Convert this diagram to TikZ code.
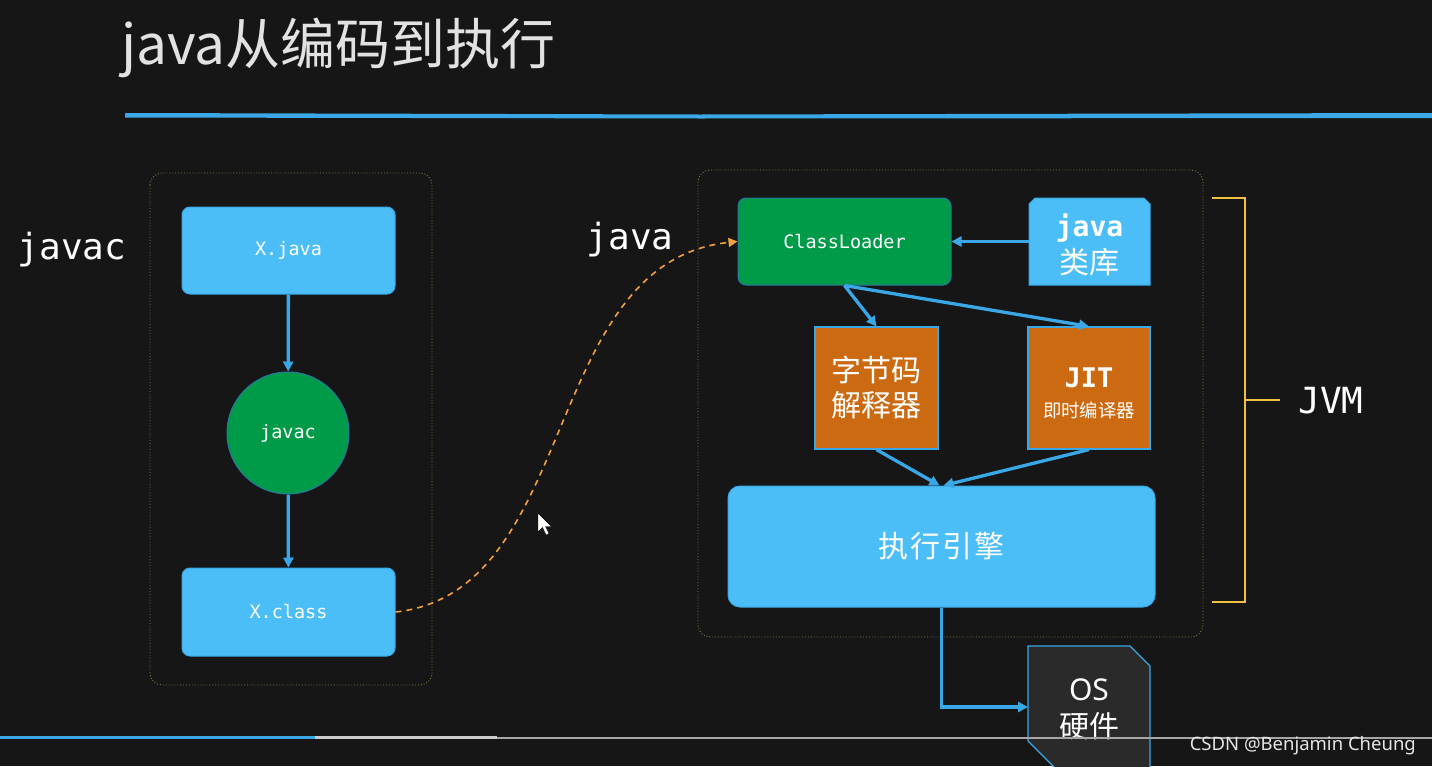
\documentclass[tikz,border=0pt]{standalone}
\usepackage{fontspec}
\usetikzlibrary{arrows.meta,shapes.misc,shapes.geometric}
\newfontfamily\cjk{Noto Sans CJK SC}
\newfontfamily\monof{DejaVu Sans Mono}
\newfontfamily\sansf{Noto Sans}
\definecolor{bg}{HTML}{161616}
\definecolor{lblue}{HTML}{4BBDF7}
\definecolor{bblue}{HTML}{3AA8E6}
\definecolor{dgreen}{HTML}{009B48}
\definecolor{orng}{HTML}{CC6A12}
\definecolor{dotc}{HTML}{8A7A3A}
\definecolor{yel}{HTML}{F0C040}
\definecolor{dashor}{HTML}{F0A040}
\definecolor{osfill}{HTML}{2A2A2A}
\definecolor{ttl}{HTML}{E2E2E2}
\tikzset{
  box/.style={rectangle, rounded corners=8pt, fill=lblue, draw=bblue, line width=1pt, inner sep=0pt, text=white, align=center},
  gbox/.style={box, fill=dgreen, draw=bblue!70!black},
  obox/.style={rectangle, fill=orng, draw=bblue, line width=1.2pt, inner sep=0pt, text=white, align=center, minimum width=123pt, minimum height=122pt},
  conn/.style={draw=bblue, line width=3.3pt, -{Triangle[length=10pt,width=10pt]}},
  grp/.style={draw=dotc, dotted, line width=0.9pt, rounded corners=12pt},
  lbl/.style={text=white, font=\monof\fontsize{36}{40}\selectfont, inner sep=0pt},
  mtext/.style={font=\monof\fontsize{18.5}{22}\selectfont},
}
\begin{document}
\begin{tikzpicture}[x=1pt,y=-1pt]
\clip (0,0) rectangle (1432,766);
\fill[bg] (0,0) rectangle (1432,766);
% title
\node[anchor=west, text=ttl, inner sep=0pt, font=\cjk\fontsize{55}{60}\selectfont] (title) at (121,48) {java从编码到执行};
\fill[bblue] (125,113) -- (700,114.5) -- (1432,113) -- (1432,118) -- (700,118.5) -- (125,117.5) -- cycle;
% groups
\draw[grp] (150,173) rectangle (432,685);
\draw[grp] (698,170) rectangle (1203,637);
% left column
\node[lbl] (lj) at (72,250) {javac};
\node[box, mtext, minimum width=213pt, minimum height=87pt] (xjava) at (288.5,250.5) {X.java};
\node[circle, fill=dgreen, draw=bblue!70!black, line width=1pt, minimum size=122pt, inner sep=0pt, text=white, mtext] (javac) at (288,433) {javac};
\node[box, mtext, minimum width=213pt, minimum height=88pt] (xclass) at (288.5,612) {X.class};
\draw[conn] (xjava) -- (javac);
\draw[conn] (javac) -- (xclass);
% java label and dashed curve
\node[lbl] (lja) at (630,240) {java};
\node[gbox, mtext, minimum width=213pt, minimum height=87pt] (cl) at (844.5,241.5) {ClassLoader};
\draw[draw=dashor, dashed, dash pattern=on 6pt off 5pt, line width=1.6pt, -{Triangle[length=9pt,width=9pt]}] (xclass.east) .. controls (580,592) and (540,262) .. (cl.west);
% cursor
\filldraw[fill=white, draw=black, line width=0.4pt] (538,513) -- (538,532) -- (542.5,527.5) -- (546,535) -- (549,533.5) -- (545.5,526.5) -- (551.5,526.5) -- cycle;
% JVM internals
\draw[fill=lblue, draw=bblue, line width=1pt] (1029,204) -- (1035,198) -- (1144,198) -- (1150,204) -- (1150,285) -- (1029,285) -- cycle;
\coordinate (libw) at (1029,241.5);
\node[text=white, align=center, inner sep=0pt, font=\cjk\fontsize{30}{37}\selectfont] (libtxt) at (1089.5,245) {{\monof\bfseries\fontsize{28}{37}\selectfont java}\\类库};
\draw[conn] (libw) -- (cl.east);
\node[obox, font=\cjk\fontsize{30}{35}\selectfont] (interp) at (876.5,388) {字节码\\解释器};
\node[obox, minimum width=122pt] (jit) at (1089,388) {};
\node[text=white, align=center, inner sep=0pt, font=\cjk\fontsize{18.4}{30}\selectfont] (jittxt) at (1089,393) {{\monof\bfseries\fontsize{27}{30}\selectfont JIT}\\即时编译器};
\node[box, rounded corners=12pt, minimum width=427pt, minimum height=121pt, font=\cjk\fontsize{30}{34}\selectfont] (engine) at (941.5,546.5) {执\kern2pt 行\kern2pt 引\kern2pt 擎};
\draw[conn] (cl.south) -- (interp.north);
\draw[conn] (cl.south) -- (jit.north);
\draw[conn] (interp.south) -- ([xshift=-2pt]engine.north);
\draw[conn] (jit.south) -- ([xshift=2pt]engine.north);
% OS
\draw[fill=osfill, draw=bblue, line width=1.2pt] (1028,646) -- (1130,646) -- (1150,666) -- (1150,790) -- (1077,790) -- (1028,741) -- cycle;
\coordinate (osw) at (1028,707);
\node[text=white, align=center, inner sep=0pt, font=\cjk\fontsize{30}{37}\selectfont] (ostxt) at (1089,709) {{\sansf\bfseries\fontsize{30}{37}\selectfont OS}\\硬件};
\draw[conn] (engine.south) |- (osw);
% bracket
\draw[yel, line width=2pt] (1212,198) -- (1245,198) -- (1245,602) -- (1212,602);
\draw[yel, line width=2pt] (1245,400) -- (1280,400);
\node[lbl] (jvm) at (1331,401) {JVM};
% player bar and watermark
\draw[gray!70, line width=2pt] (0,737.5) -- (1432,737.5);
\draw[gray!40, line width=2.5pt] (315,737.5) -- (497,737.5);
\draw[bblue, line width=3pt] (0,737.5) -- (315,737.5);
\node[anchor=east, text=white!80!gray, inner sep=0pt, font=\sansf\fontsize{18.5}{21}\selectfont] (wm) at (1416,746) {CSDN @Benjamin Cheung};
\end{tikzpicture}
\end{document}
